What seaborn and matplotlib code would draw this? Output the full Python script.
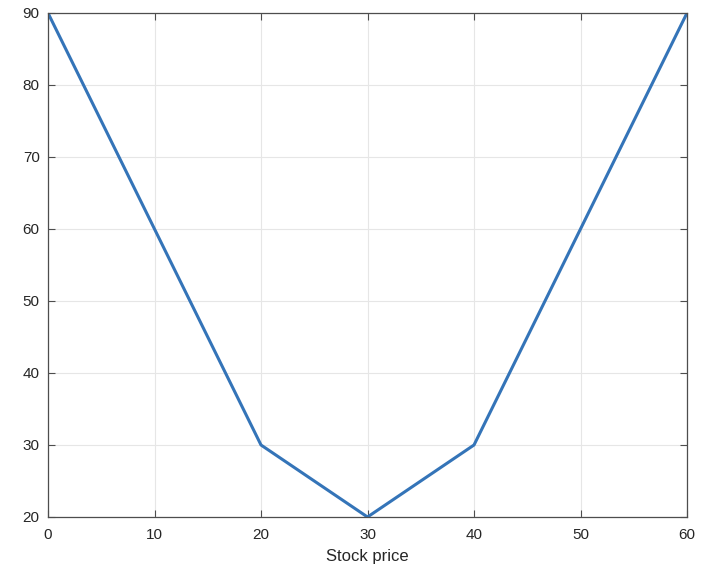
import matplotlib
matplotlib.use("Agg")
import matplotlib.pyplot as plt
import seaborn as sns
import pandas as pd

stock_price = [0, 20, 30, 40, 60]
payoff = [90, 30, 20, 30, 90]
x_ticks = [0, 10, 20, 30, 40, 50, 60]
y_ticks = [20, 30, 40, 50, 60, 70, 80, 90]

sns.set_style("white")
plt.rcParams['font.family'] = ['Liberation Sans', 'DejaVu Sans']

df = pd.DataFrame({"Stock price": stock_price, "Value": payoff})

fig = plt.figure(figsize=(7.14, 5.82), dpi=100)
ax = fig.add_axes([48/714, 1 - 517/582, (687 - 48)/714, (517 - 13)/582])
sns.lineplot(data=df, x="Stock price", y="Value", ax=ax, color="#3474b8", linewidth=2.2)

ax.set_xlim(0, 60)
ax.set_ylim(20, 90)
ax.set_xticks(x_ticks)
ax.set_yticks(y_ticks)
ax.grid(True, color="#e6e6e6", linewidth=0.8)
ax.set_axisbelow(True)
ax.set_ylabel("")
ax.set_xlabel("Stock price", fontsize=12, color="#262626", labelpad=5)
for s in ax.spines.values():
    s.set_color("#4d4d4d")
    s.set_linewidth(0.9)
    s.set_visible(True)
ax.tick_params(direction="in", length=5, width=0.8, color="#4d4d4d",
               labelsize=11, labelcolor="#262626", top=True, right=True,
               left=True, bottom=True)
ax.tick_params(axis="x", pad=8)
ax.tick_params(axis="y", pad=6)

fig.savefig("out.png", dpi=100)
